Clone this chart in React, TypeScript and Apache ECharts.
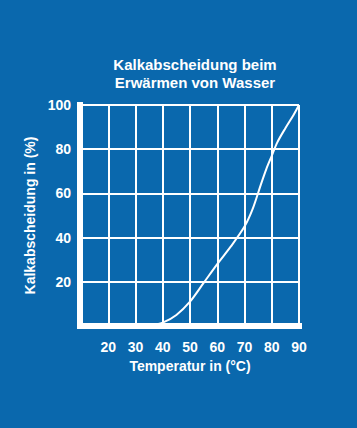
import React, { useEffect, useRef } from "react";
import * as echarts from "echarts";

const titleLines = ["Kalkabscheidung beim", "Erwärmen von Wasser"];
const xName = "Temperatur in (°C)";
const yName = "Kalkabscheidung in (%)";
const temperatures = [35, 40, 45, 50, 55, 60, 65, 70, 73, 76, 78, 80, 82, 85, 88, 90];
const deposition = [0, 1.5, 5, 11, 19.5, 28, 36, 45, 53, 64, 71, 77, 83, 89.5, 95.5, 100];

const FONT = "'Liberation Sans', Arial, Helvetica, sans-serif";
const WHITE = "#ffffff";
const BG = "#0a68ad";

export default function App() {
  const ref = useRef<HTMLDivElement>(null);
  useEffect(() => {
    document.body.style.margin = "0";
    const chart = echarts.init(ref.current!, null, { renderer: "svg" });
    const data = temperatures.map((t, i) => [t, deposition[i]]);
    chart.setOption({
      animation: false,
      backgroundColor: BG,
      title: {
        text: titleLines.join("\n"),
        left: 190,
        top: 51,
        textAlign: "center",
        textStyle: {
          color: WHITE,
          fontFamily: FONT,
          fontWeight: "bold",
          fontSize: 15,
          lineHeight: 17.5,
        },
      },
      grid: { left: 81, right: 58, top: 105, bottom: 102 },
      xAxis: {
        type: "value",
        min: 10,
        max: 90,
        interval: 10,
        offset: 2,
        name: xName,
        nameLocation: "middle",
        nameGap: 29,
        nameTextStyle: { color: WHITE, fontFamily: FONT, fontWeight: "bold", fontSize: 14 },
        axisLine: { show: true, lineStyle: { color: WHITE, width: 6, cap: "square" } },
        axisTick: { show: false },
        axisLabel: {
          color: WHITE,
          fontFamily: FONT,
          fontWeight: "bold",
          fontSize: 14,
          margin: 12,
          formatter: (v: number) => (v === 10 ? "" : String(v)),
        },
        splitLine: { show: true, lineStyle: { color: WHITE, width: 2 } },
      },
      yAxis: {
        type: "value",
        min: 0,
        max: 100,
        interval: 20,
        offset: 1,
        name: yName,
        nameLocation: "middle",
        nameGap: 39,
        nameRotate: 90,
        nameTextStyle: { color: WHITE, fontFamily: FONT, fontWeight: "bold", fontSize: 14 },
        axisLine: { show: true, lineStyle: { color: WHITE, width: 6, cap: "square" } },
        axisTick: { show: false },
        axisLabel: {
          color: WHITE,
          fontFamily: FONT,
          fontWeight: "bold",
          fontSize: 14,
          margin: 9,
          formatter: (v: number) => (v === 0 ? "" : String(v)),
        },
        splitLine: { show: true, lineStyle: { color: WHITE, width: 2 } },
      },
      series: [
        {
          type: "line",
          data,
          smooth: 0.3,
          showSymbol: false,
          lineStyle: { color: WHITE, width: 2 },
          z: 1,
        },
      ],
    });
    return () => chart.dispose();
  }, []);
  return <div ref={ref} style={{ width: 357, height: 428 }} />;
}
